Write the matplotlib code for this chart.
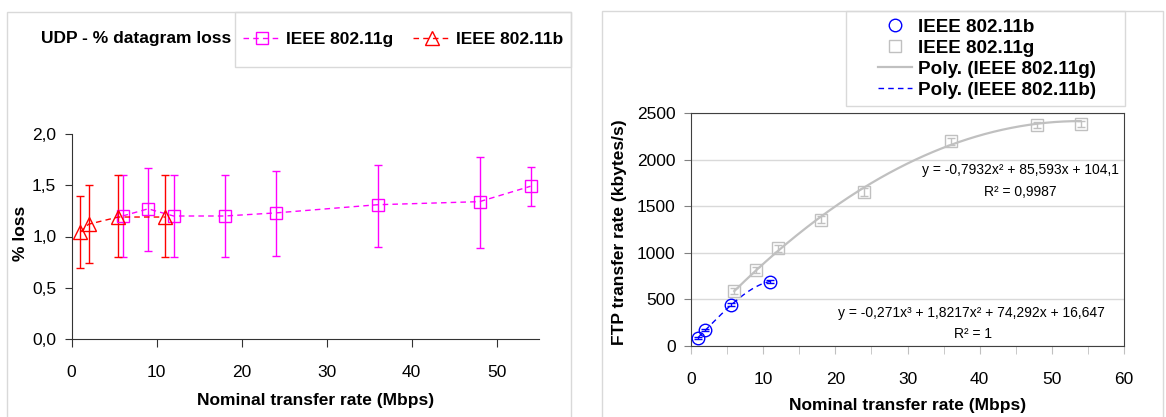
import numpy as np
import matplotlib
matplotlib.use('Agg')
import matplotlib.pyplot as plt
from matplotlib.patches import Rectangle
from matplotlib.lines import Line2D

plt.rcParams['font.family'] = ['Liberation Sans', 'DejaVu Sans']

# ---- left chart: UDP datagram loss ----
g_rate = [6, 9, 12, 18, 24, 36, 48, 54]
g_loss = [1.20, 1.27, 1.20, 1.20, 1.23, 1.31, 1.34, 1.49]
g_loss_hi = [1.60, 1.67, 1.60, 1.60, 1.64, 1.70, 1.78, 1.68]
g_loss_lo = [0.80, 0.86, 0.80, 0.80, 0.81, 0.90, 0.89, 1.30]

b_rate = [1, 2, 5.5, 11]
b_loss = [1.04, 1.12, 1.19, 1.19]
b_loss_hi = [1.40, 1.50, 1.60, 1.60]
b_loss_lo = [0.69, 0.74, 0.80, 0.80]

loss_ticks = [0, 0.5, 1.0, 1.5, 2.0]
loss_tick_labels = ['0,0', '0,5', '1,0', '1,5', '2,0']
rate_ticks_left = [0, 10, 20, 30, 40, 50]

# ---- right chart: FTP transfer rate ----
g_ftp = [590, 817, 1048, 1357, 1652, 2195, 2370, 2385]
g_ftp_err = [30, 30, 40, 40, 45, 40, 35, 30]
b_ftp = [89, 170, 444, 689]
b_ftp_err = [10, 12, 15, 15]

# trendline coefficients as printed on the chart
g_poly = [-0.7932, 85.593, 104.1]
b_poly = [-0.271, 1.8217, 74.292, 16.647]

ftp_ticks = [0, 500, 1000, 1500, 2000, 2500]
rate_ticks_right = [0, 10, 20, 30, 40, 50, 60]

W, H = 1166, 417
fig = plt.figure(figsize=(W / 100, H / 100), dpi=100)


def fx(px):
    return px / W


def fy(py):
    return 1 - py / H


FS = 12.5
magenta = '#FF00FF'
red = '#FF0000'
blue = '#0000FF'
lgray = '#C0C0C0'
boxgray = '#D9D9D9'

# panel outlines
fig.add_artist(Rectangle((fx(7), -0.1), fx(571) - fx(7), fy(12) + 0.1,
                         transform=fig.transFigure, fill=False,
                         edgecolor=boxgray, lw=1))
fig.add_artist(Rectangle((fx(602), -0.1), fx(1163) - fx(602), fy(11) + 0.1,
                         transform=fig.transFigure, fill=False,
                         edgecolor=boxgray, lw=1))

# ===== left =====
ax1 = fig.add_axes([fx(71.6), fy(339), fx(539) - fx(71.6), fy(134) - fy(339)])
g_loss_a = np.array(g_loss)
b_loss_a = np.array(b_loss)
ax1.errorbar(g_rate, g_loss, yerr=[g_loss_a - g_loss_lo, np.array(g_loss_hi) - g_loss_a],
             fmt='none', ecolor=magenta, elinewidth=1, capsize=3, zorder=2)
ax1.errorbar(b_rate, b_loss, yerr=[b_loss_a - b_loss_lo, np.array(b_loss_hi) - b_loss_a],
             fmt='none', ecolor=red, elinewidth=1, capsize=3, zorder=2)
ax1.plot(g_rate, g_loss, color=magenta, ls=(0, (4, 3)), lw=1,
         marker='s', ms=9, mfc='none', mec=magenta, mew=1, zorder=3,
         label='IEEE 802.11g')
ax1.plot(b_rate, b_loss, color=red, ls=(0, (4, 3)), lw=1,
         marker='^', ms=10, mfc='none', mec=red, mew=1, zorder=3,
         label='IEEE 802.11b')
ax1.set_xlim(0, 55)
ax1.set_ylim(0, 2)
ax1.set_yticks(loss_ticks)
ax1.set_yticklabels(loss_tick_labels)
ax1.set_xticks(rate_ticks_left)
for s in ['top', 'right']:
    ax1.spines[s].set_visible(False)
for s in ['left', 'bottom']:
    ax1.spines[s].set_color('#333333')
ax1.tick_params(axis='y', direction='out', length=5, color='#333333',
                labelsize=FS, pad=6)
ax1.tick_params(axis='x', direction='out', length=6, color='#333333',
                labelsize=FS, pad=13)
ax1.set_xlabel('Nominal transfer rate (Mbps)', fontsize=FS, fontweight='bold')
ax1.xaxis.set_label_coords(0.521, -0.263)
ax1.set_ylabel('% loss', fontsize=FS, fontweight='bold')
ax1.yaxis.set_label_coords(-0.093, 0.517)

fig.text(fx(41), fy(38), 'UDP - % datagram loss', fontsize=FS,
         fontweight='bold', ha='left', va='center')
fig.add_artist(Rectangle((fx(235), fy(67)), fx(571) - fx(235), fy(12) - fy(67),
                         transform=fig.transFigure, fill=False,
                         edgecolor=boxgray, lw=1))
h1, l1 = ax1.get_legend_handles_labels()
fig.legend(h1, l1, loc='center', bbox_to_anchor=(fx(403), fy(39.5)),
           ncol=2, frameon=False, numpoints=1, handlelength=2.2,
           handletextpad=0.3, columnspacing=1.1, borderpad=0,
           prop={'size': FS, 'weight': 'bold'})

# ===== right =====
ax2 = fig.add_axes([fx(691), fy(346), fx(1124) - fx(691), fy(113) - fy(346)])
ax2.set_axisbelow(True)
ax2.grid(True, axis='y', color='#D9D9D9', lw=1)
ax2.errorbar(g_rate, g_ftp, yerr=g_ftp_err, fmt='none', ecolor=lgray,
             elinewidth=1, capsize=3, zorder=2)
ax2.errorbar(b_rate, b_ftp, yerr=b_ftp_err, fmt='none', ecolor=blue,
             elinewidth=1, capsize=3, zorder=2)

xg = np.linspace(min(g_rate), max(g_rate), 200)
xb = np.linspace(min(b_rate), max(b_rate), 200)
ax2.plot(xg, np.polyval(g_poly, xg), color=lgray, lw=1.6, zorder=3)
ax2.plot(xb, np.polyval(b_poly, xb), color=blue, lw=1, ls=(0, (4, 3)), zorder=3)
ax2.plot(g_rate, g_ftp, ls='none', marker='s', ms=9, mfc='none',
         mec=lgray, mew=1, zorder=4)
ax2.plot(b_rate, b_ftp, ls='none', marker='o', ms=9, mfc='none',
         mec=blue, mew=1, zorder=4)

ax2.set_xlim(0, 60)
ax2.set_ylim(0, 2500)
ax2.set_xticks(rate_ticks_right)
ax2.set_xticks(np.arange(5, 60, 10), minor=True)
ax2.set_yticks(ftp_ticks)
for s in ax2.spines.values():
    s.set_color('#404040')
ax2.tick_params(axis='y', direction='out', length=5, color='#808080',
                labelsize=FS, pad=6)
ax2.tick_params(axis='x', which='both', direction='out', length=6,
                color='#C0C0C0', labelsize=FS, pad=13)
ax2.set_xlabel('Nominal transfer rate (Mbps)', fontsize=FS, fontweight='bold')
ax2.xaxis.set_label_coords(0.501, -0.223)
ax2.set_ylabel('FTP transfer rate (kbytes/s)', fontsize=FS, fontweight='bold')
ax2.yaxis.set_label_coords(-0.148, 0.49)

EQ = 10
ax2.text(0.760, 0.755, 'y = -0,7932x² + 85,593x + 104,1', transform=ax2.transAxes,
         fontsize=EQ, ha='center', va='center')
ax2.text(0.760, 0.661, 'R² = 0,9987', transform=ax2.transAxes,
         fontsize=EQ, ha='center', va='center')
ax2.text(0.647, 0.142, 'y = -0,271x³ + 1,8217x² + 74,292x + 16,647',
         transform=ax2.transAxes, fontsize=EQ, ha='center', va='center')
ax2.text(0.651, 0.052, 'R² = 1', transform=ax2.transAxes,
         fontsize=EQ, ha='center', va='center')

fig.add_artist(Rectangle((fx(846), fy(106)), fx(1125) - fx(846), fy(11) - fy(106),
                         transform=fig.transFigure, fill=False,
                         edgecolor=boxgray, lw=1))
h2 = [Line2D([], [], ls='none', marker='o', ms=9, mfc='none', mec=blue, mew=1),
      Line2D([], [], ls='none', marker='s', ms=9, mfc='none', mec=lgray, mew=1),
      Line2D([], [], color=lgray, lw=1.6),
      Line2D([], [], color=blue, lw=1, ls=(0, (4, 3)))]
l2 = ['IEEE 802.11b', 'IEEE 802.11g', 'Poly. (IEEE 802.11g)', 'Poly. (IEEE 802.11b)']
fig.legend(h2, l2, loc='center', bbox_to_anchor=(fx(987), fy(58.5)),
           frameon=False, numpoints=1, handlelength=1.8, handletextpad=0.3,
           labelspacing=0.2, borderpad=0, prop={'size': 13.6, 'weight': 'bold'})

fig.savefig('out.png', dpi=100)
